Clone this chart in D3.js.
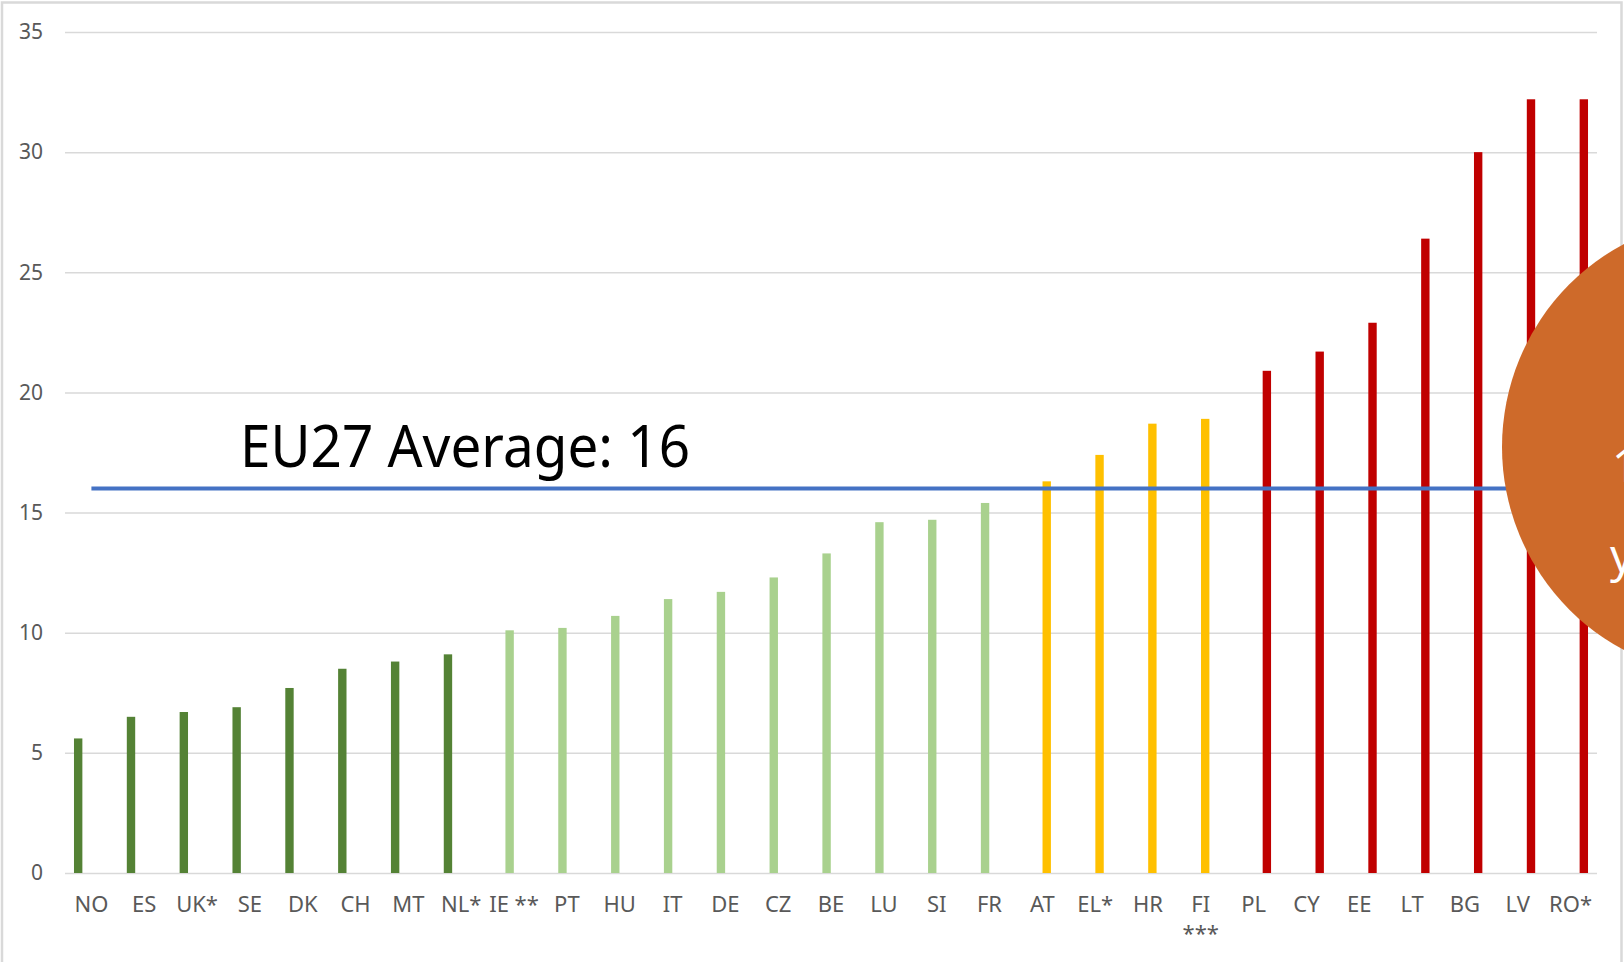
<!DOCTYPE html>
<html>
<head>
<meta charset="utf-8">
<script src="https://cdn.jsdelivr.net/npm/d3@7"></script>
<style>
  html, body { margin: 0; padding: 0; background: #fff; }
  svg { display: block; }
</style>
</head>
<body>
<svg id="chart" width="1624" height="962"></svg>
<script>
// ---- data ----
const categories = ["NO","ES","UK*","SE","DK","CH","MT","NL*","IE **","PT","HU","IT","DE","CZ","BE","LU","SI","FR","AT","EL*","HR","FI\n***","PL","CY","EE","LT","BG","LV","RO*"];
const values = [5.6,6.5,6.7,6.9,7.7,8.5,8.8,9.1,10.1,10.2,10.7,11.4,11.7,12.3,13.3,14.6,14.7,15.4,16.3,17.4,18.7,18.9,20.9,21.7,22.9,26.4,30.0,32.2,32.2];
const tiers = [0,0,0,0,0,0,0,0,1,1,1,1,1,1,1,1,1,1,2,2,2,2,3,3,3,3,3,3,3];
const tierIds = [0,1,2,3];
const tierColors = ["#548235","#A9D18E","#FFC000","#C00000"];
const yTicks = [0,5,10,15,20,25,30,35];
const average = 16;
const averageLabel = "EU27 Average: 16";
const calloutLines = ["1", "y"];

// ---- layout ----
const W = 1624, H = 962;
const plot = { left: 65, right: 1597, top: 32, bottom: 873 };
const svg = d3.select("#chart");
const font = "'Noto Sans', 'Open Sans', sans-serif";

// frame
svg.append("rect").attr("x", 2).attr("y", 2.5).attr("width", 1619.5).attr("height", H + 10)
  .attr("fill", "none").attr("stroke", "#d9d9d9").attr("stroke-width", 2.5);

const y = d3.scaleLinear().domain([0, 35]).range([plot.bottom, plot.top]);
const x0 = d3.scaleBand().domain(categories).range([plot.left, plot.right])
  .paddingInner(0.34).paddingOuter(0.17);
const x1 = d3.scaleBand().domain(tierIds).range([0, x0.bandwidth()]).paddingInner(0.05);

// y axis with gridlines
const yAxis = svg.append("g").attr("transform", `translate(${plot.left},0)`)
  .call(d3.axisLeft(y).tickValues(yTicks).tickSize(-(plot.right - plot.left)).tickPadding(22));
yAxis.select(".domain").remove();
yAxis.selectAll(".tick line").attr("stroke", "#d9d9d9").attr("stroke-width", 1.5);
yAxis.selectAll(".tick text").attr("fill", "#595959").style("font-family", font).style("font-size", "21px");

// bars
const data = categories.map((c, i) => ({ cat: c, value: values[i], tier: tiers[i] }));
svg.append("g").selectAll("rect").data(data).join("rect")
  .attr("x", d => x0(d.cat) + x1(d.tier))
  .attr("width", x1.bandwidth())
  .attr("y", d => y(d.value))
  .attr("height", d => y(0) - y(d.value))
  .attr("fill", d => tierColors[d.tier]);

// x axis labels
const xAxis = svg.append("g").attr("transform", `translate(0,${plot.bottom})`)
  .call(d3.axisBottom(x0).tickSize(0).tickPadding(0).tickFormat(""));
xAxis.select(".domain").remove();
xAxis.selectAll(".tick").each(function(d) {
  const t = d3.select(this).append("text")
    .attr("fill", "#595959").attr("text-anchor", "middle")
    .style("font-family", font).style("font-size", "22px");
  d.split("\n").forEach((line, k) => {
    t.append("tspan").attr("x", 0).attr("y", 39 + k * 29).text(line);
  });
});

// average line
const xStart = x0(categories[0]) + x0.bandwidth() / 2;
svg.append("line")
  .attr("x1", xStart).attr("x2", 1580)
  .attr("y1", y(average)).attr("y2", y(average))
  .attr("stroke", "#4472C4").attr("stroke-width", 4);

const avgText = svg.append("text")
  .attr("x", 240).attr("y", 467)
  .attr("fill", "#000")
  .style("font-family", font).style("font-size", "58px")
  .text(averageLabel);
const natural = avgText.node().getComputedTextLength();
if (Math.abs(natural - 450) > 4) avgText.attr("textLength", 450).attr("lengthAdjust", "spacingAndGlyphs");

// callout circle
svg.append("circle").attr("cx", 1732).attr("cy", 447).attr("r", 230).attr("fill", "#CE6A2A");
svg.append("text").attr("x", 1612).attr("y", 482).attr("fill", "#fff")
  .style("font-family", font).style("font-size", "46px").text(calloutLines[0]);
svg.append("text").attr("x", 1610).attr("y", 572).attr("fill", "#fff")
  .style("font-family", font).style("font-size", "46px").text(calloutLines[1]);
</script>
</body>
</html>
